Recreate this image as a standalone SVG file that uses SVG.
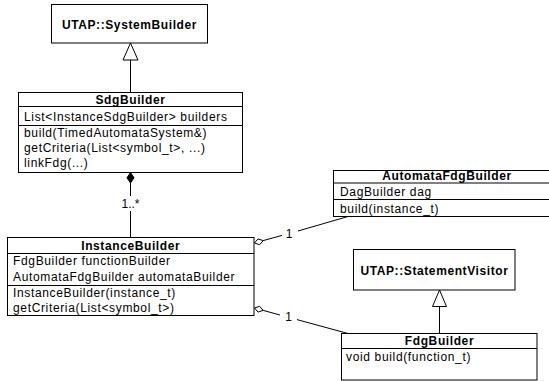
<svg xmlns="http://www.w3.org/2000/svg" width="549" height="381" viewBox="0 0 549 381">
<style>
.box{fill:#fff;stroke:#000;stroke-width:1}
.ln{stroke:#000;stroke-width:1;fill:none}
.t{font-family:"Liberation Sans",Arial,sans-serif;font-size:12px;letter-spacing:0.65px;fill:#000}
.b{font-family:"Liberation Sans",Arial,sans-serif;font-size:12px;font-weight:bold;letter-spacing:0.6px;fill:#000;text-anchor:middle}
.lbl{font-family:"Liberation Sans",Arial,sans-serif;font-size:12px;fill:#000;text-anchor:middle}
</style>
<rect width="549" height="381" fill="#fff"/>
<g id="connectors">
  <line class="ln" x1="130.5" y1="60" x2="130.5" y2="92.5"/>
  <polygon class="box" points="130.5,43 138,60 123,60"/>
  <polygon points="130.5,172.5 134,177.75 130.5,183 127,177.75" fill="#000" stroke="#000" stroke-width="1"/>
  <line class="ln" x1="130.5" y1="183" x2="130.5" y2="196"/>
  <line class="ln" x1="130.5" y1="211" x2="130.5" y2="237.5"/>
  <text class="lbl" x="130.5" y="208">1..*</text>
  <line class="ln" x1="263.2" y1="240.6" x2="282" y2="235.4"/>
  <line class="ln" x1="298" y1="231" x2="348" y2="216.5"/>
  <polygon class="box" points="254.5,243 258,238.9 263.2,240.6 259.6,244.7"/>
  <text class="lbl" x="289" y="238">1</text>
  <line class="ln" x1="263.2" y1="310.4" x2="280" y2="315"/>
  <line class="ln" x1="297" y1="319.6" x2="348" y2="333.5"/>
  <polygon class="box" points="254.5,308 259.6,306.3 263.2,310.4 258,312.1"/>
  <text class="lbl" x="288.5" y="321">1</text>
  <line class="ln" x1="439.5" y1="306.5" x2="439.5" y2="333.5"/>
  <polygon class="box" points="439.5,290 446.5,306.5 432.5,306.5"/>
</g>
<g id="SystemBuilder">
  <rect class="box" x="51.5" y="4.5" width="156" height="38.5"/>
  <text class="b" x="129.5" y="29">UTAP::SystemBuilder</text>
</g>
<g id="SdgBuilder">
  <rect class="box" x="18.5" y="92.5" width="224" height="80"/>
  <line class="ln" x1="18.5" y1="106.5" x2="242.5" y2="106.5"/>
  <line class="ln" x1="18.5" y1="125.5" x2="242.5" y2="125.5"/>
  <text class="b" x="130.5" y="104">SdgBuilder</text>
  <text class="t" x="24" y="121">List&lt;InstanceSdgBuilder&gt; builders</text>
  <text class="t" x="24" y="137">build(TimedAutomataSystem&amp;)</text>
  <text class="t" x="24" y="152">getCriteria(List&lt;symbol_t&gt;, ...)</text>
  <text class="t" x="24" y="167">linkFdg(...)</text>
</g>
<g id="InstanceBuilder">
  <rect class="box" x="7.5" y="237.5" width="246.5" height="78"/>
  <line class="ln" x1="7.5" y1="253.5" x2="254" y2="253.5"/>
  <line class="ln" x1="7.5" y1="285.5" x2="254" y2="285.5"/>
  <text class="b" x="130.75" y="250">InstanceBuilder</text>
  <text class="t" x="13" y="265">FdgBuilder functionBuilder</text>
  <text class="t" x="13" y="281">AutomataFdgBuilder automataBuilder</text>
  <text class="t" x="13" y="297">InstanceBuilder(instance_t)</text>
  <text class="t" x="13" y="312">getCriteria(List&lt;symbol_t&gt;)</text>
</g>
<g id="AutomataFdgBuilder">
  <rect class="box" x="333.5" y="170.5" width="227" height="46"/>
  <line class="ln" x1="333.5" y1="183" x2="560.5" y2="183"/>
  <line class="ln" x1="333.5" y1="199.5" x2="560.5" y2="199.5"/>
  <text class="b" x="447" y="180">AutomataFdgBuilder</text>
  <text class="t" x="340" y="196">DagBuilder dag</text>
  <text class="t" x="340" y="213">build(instance_t)</text>
</g>
<g id="StatementVisitor">
  <rect class="box" x="353.5" y="249.5" width="161.5" height="40.5"/>
  <text class="b" x="434.5" y="275">UTAP::StatementVisitor</text>
</g>
<g id="FdgBuilder">
  <rect class="box" x="341.5" y="333.5" width="195.5" height="46.5"/>
  <line class="ln" x1="341.5" y1="348.5" x2="537" y2="348.5"/>
  <text class="b" x="439.5" y="345">FdgBuilder</text>
  <text class="t" x="346" y="361">void build(function_t)</text>
</g>
</svg>
